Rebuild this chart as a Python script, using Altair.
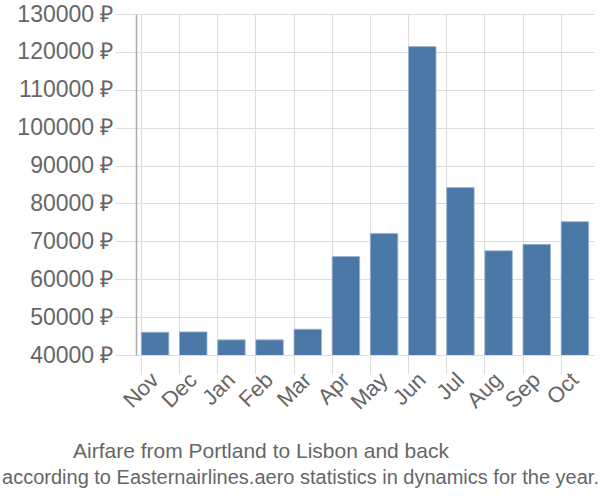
import altair as alt
import pandas as pd

months = ["Nov", "Dec", "Jan", "Feb", "Mar", "Apr", "May", "Jun", "Jul", "Aug", "Sep", "Oct"]
prices = [46000, 46100, 44000, 44000, 46800, 66000, 72100, 121400, 84200, 67500, 69200, 75200]

df = pd.DataFrame({"month": months, "price": prices})

chart = alt.Chart(df).mark_bar(
    color="#4c78a8", stroke="#9db4d0", strokeWidth=0.8, clip=True
).encode(
    x=alt.X("month:N", sort=months,
            title="according to Easternairlines.aero statistics in dynamics for the year.",
            scale=alt.Scale(paddingInner=0.28, paddingOuter=0.14),
            axis=alt.Axis(labelAngle=-45, labelFontSize=22, labelColor="#666666",
                          labelFont="Liberation Sans", labelAlign="right", labelBaseline="middle",
                          grid=True, gridColor="#dddddd", tickColor="#dddddd", tickSize=19,
                          bandPosition=0, domain=False, labelPadding=2, labelOffset=0,
                          titleFontSize=20, titleFont="Liberation Sans", titleFontWeight="normal",
                          titleColor="#666666", titleX=164, titleY=128,
                          titleBaseline="alphabetic", titleAnchor="middle", titleAlign="center")),
    y=alt.Y("price:Q", title=None,
            scale=alt.Scale(domain=[40000, 130000], nice=False, zero=False),
            axis=alt.Axis(values=list(range(40000, 130001, 10000)),
                          labelExpr="datum.value + ' ₽'", labelFontSize=23,
                          labelColor="#666666", labelFont="Liberation Sans",
                          gridColor="#dddddd", tickColor="#dddddd", tickSize=21,
                          labelPadding=2, domainColor="#aaaaaa", domainWidth=1.5)),
).properties(
    width=458, height=341,
    autosize="none",
    padding={"left": 136, "top": 14, "right": 6, "bottom": 145},
    title=alt.TitleParams(
        text="Airfare from Portland to Lisbon and back",
        orient="bottom", anchor="middle", frame="group",
        fontSize=21, font="Liberation Sans", fontWeight="normal", color="#666666",
        offset=-46, dx=-104,
    ),
).configure_view(stroke=None)

chart.save("out.html", embed_options={"renderer": "svg", "actions": False})
